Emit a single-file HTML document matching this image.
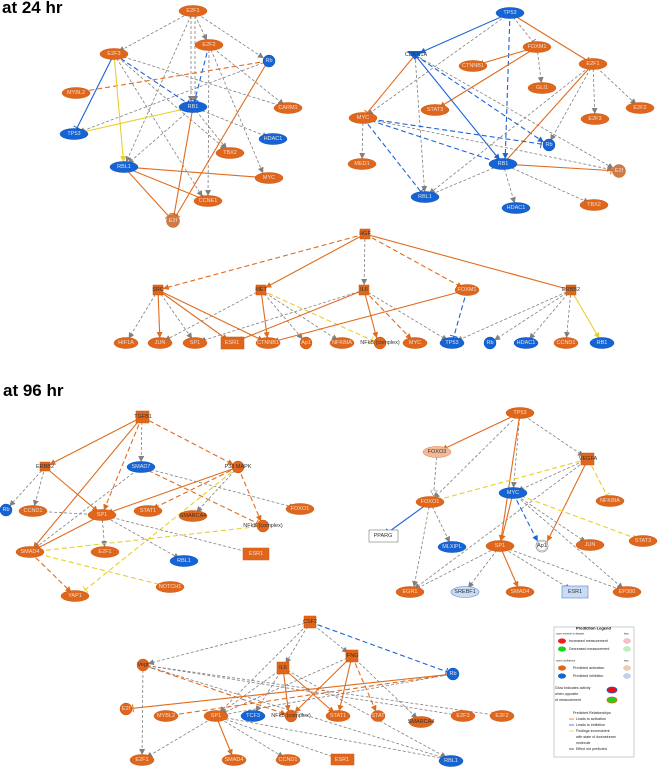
<!DOCTYPE html>
<html><head><meta charset="utf-8"><style>
html,body{margin:0;padding:0;background:#fff;}
svg{display:block}
.g{stroke:#808080;stroke-width:.8;stroke-dasharray:3 2;fill:none}
.o{stroke:#e06c1e;stroke-width:1.1;fill:none}
.od{stroke:#e06c1e;stroke-width:1.1;stroke-dasharray:5 3;fill:none}
.b{stroke:#1c64d6;stroke-width:1.1;fill:none}
.bd{stroke:#1c64d6;stroke-width:1.1;stroke-dasharray:5 3;fill:none}
.y{stroke:#e8cf2c;stroke-width:1.1;fill:none}
.yd{stroke:#e8cf2c;stroke-width:1.1;stroke-dasharray:5 3;fill:none}
.no{fill:#e0661c;stroke:#c85814;stroke-width:.5}
.nb{fill:#1464d8;stroke:#0f50b0;stroke-width:.5}
.nl{fill:#f4b896;stroke:#d9804a;stroke-width:.5}
.nlb{fill:#c9dcf5;stroke:#5a86c4;stroke-width:.6}
.nw{fill:#fff;stroke:#777;stroke-width:.6}
text{font-family:"Liberation Sans",sans-serif;font-size:5.5px;text-anchor:middle;dominant-baseline:central;fill:#e8e0d8}
.dk{fill:#333}
.t{font-size:17px;font-weight:bold;fill:#000;text-anchor:start;dominant-baseline:auto}
.lg{font-size:3.6px;fill:#222;text-anchor:start}
</style></head><body>
<svg width="658" height="768" viewBox="0 0 658 768" xmlns="http://www.w3.org/2000/svg">
<defs>
<marker id="ag" markerUnits="userSpaceOnUse" markerWidth="6" markerHeight="6" refX="11" refY="3" orient="auto"><path d="M0,0L6,3L0,6z" fill="#808080"/></marker>
<marker id="ao" markerUnits="userSpaceOnUse" markerWidth="6" markerHeight="6" refX="11" refY="3" orient="auto"><path d="M0,0L6,3L0,6z" fill="#e06c1e"/></marker>
<marker id="ab" markerUnits="userSpaceOnUse" markerWidth="6" markerHeight="6" refX="11" refY="3" orient="auto"><path d="M0,0L6,3L0,6z" fill="#1c64d6"/></marker>
<marker id="ay" markerUnits="userSpaceOnUse" markerWidth="6" markerHeight="6" refX="11" refY="3" orient="auto"><path d="M0,0L6,3L0,6z" fill="#e8cf2c"/></marker>
<marker id="to" markerUnits="userSpaceOnUse" markerWidth="2" markerHeight="8" refX="8" refY="4" orient="auto"><path d="M1,0V8" stroke="#e06c1e" stroke-width="1"/></marker>
<marker id="tb" markerUnits="userSpaceOnUse" markerWidth="2" markerHeight="8" refX="8" refY="4" orient="auto"><path d="M1,0V8" stroke="#1c64d6" stroke-width="1"/></marker>
<marker id="ty" markerUnits="userSpaceOnUse" markerWidth="2" markerHeight="8" refX="8" refY="4" orient="auto"><path d="M1,0V8" stroke="#e8cf2c" stroke-width="1"/></marker>
<marker id="tg" markerUnits="userSpaceOnUse" markerWidth="2" markerHeight="8" refX="8" refY="4" orient="auto"><path d="M1,0V8" stroke="#808080" stroke-width="1"/></marker>
<marker id="og" markerUnits="userSpaceOnUse" markerWidth="7" markerHeight="7" refX="12" refY="3.5" orient="auto"><path d="M0,0L6,3.5L0,7z" fill="#fff" stroke="#808080" stroke-width=".6"/></marker>
</defs>

<text class="t" x="2" y="13">at 24 hr</text>
<text class="t" x="3" y="396">at 96 hr</text>

<!-- ===== Panel 1 ===== -->
<g>
<line class="g" x1="193" y1="11" x2="114" y2="54" marker-end="url(#ag)"/>
<line class="g" x1="193" y1="11" x2="209" y2="45" marker-end="url(#ag)"/>
<line class="g" x1="193" y1="11" x2="268" y2="61" marker-end="url(#ag)"/>
<line class="g" x1="191" y1="11" x2="191" y2="107" marker-end="url(#ag)"/>
<line class="g" x1="195" y1="11" x2="195" y2="107" marker-end="url(#ag)"/>
<line class="g" x1="193" y1="11" x2="124" y2="167" marker-end="url(#ag)"/>
<line class="g" x1="209" y1="45" x2="288" y2="108" marker-end="url(#ag)"/>
<line class="g" x1="209" y1="45" x2="265" y2="178" marker-end="url(#ag)"/>
<line class="g" x1="209" y1="45" x2="208" y2="201" marker-end="url(#ag)"/>
<line class="g" x1="114" y1="54" x2="288" y2="108" marker-end="url(#ag)"/>
<line class="g" x1="114" y1="54" x2="230" y2="153" marker-end="url(#ag)"/>
<line class="g" x1="114" y1="54" x2="205" y2="201" marker-end="url(#ag)"/>
<line class="g" x1="268" y1="61" x2="74" y2="134" marker-end="url(#ag)"/>
<line class="g" x1="193" y1="107" x2="124" y2="167" marker-end="url(#ag)"/>
<line class="g" x1="193" y1="107" x2="273" y2="139" marker-end="url(#ag)"/>
<line class="g" x1="193" y1="107" x2="230" y2="153" marker-end="url(#ag)"/>
<line class="bd" x1="114" y1="54" x2="193" y2="107" marker-end="url(#tb)"/>
<line class="bd" x1="209" y1="45" x2="193" y2="107" marker-end="url(#tb)"/>
<line class="b" x1="114" y1="54" x2="74" y2="134" marker-end="url(#tb)"/>
<line class="od" x1="268" y1="61" x2="73" y2="93" marker-end="url(#to)"/>
<line class="y" x1="114" y1="54" x2="124" y2="167" marker-end="url(#ay)"/>
<line class="y" x1="193" y1="107" x2="74" y2="134" marker-end="url(#ty)"/>
<line class="o" x1="124" y1="167" x2="269" y2="178" marker-end="url(#to)"/>
<line class="o" x1="124" y1="167" x2="208" y2="201" marker-end="url(#to)"/>
<line class="o" x1="124" y1="167" x2="173" y2="221" marker-end="url(#to)"/>
<line class="o" x1="193" y1="107" x2="173" y2="221" marker-end="url(#to)"/>
<line class="o" x1="268" y1="61" x2="173" y2="221" marker-end="url(#to)"/>

<ellipse class="no" cx="193" cy="11" rx="14" ry="5.5"/><text x="193" y="11">E2F1</text>
<ellipse class="no" cx="209" cy="45" rx="14" ry="5.5"/><text x="209" y="45">E2F2</text>
<ellipse class="no" cx="114" cy="54" rx="14" ry="5.5"/><text x="114" y="54">E2F3</text>
<circle class="nb" cx="269" cy="61" r="6"/><text x="269" y="61">Rb</text>
<ellipse class="no" cx="76" cy="93" rx="14" ry="5.5"/><text x="76" y="93">MYBL2</text>
<ellipse class="nb" cx="193" cy="107" rx="14" ry="5.5"/><text x="193" y="107">RB1</text>
<ellipse class="no" cx="288" cy="108" rx="14" ry="5.5"/><text x="288" y="108">CARM1</text>
<ellipse class="nb" cx="74" cy="134" rx="14" ry="5.5"/><text x="74" y="134">TP53</text>
<ellipse class="nb" cx="273" cy="139" rx="14" ry="5.5"/><text x="273" y="139">HDAC1</text>
<ellipse class="no" cx="230" cy="153" rx="14" ry="5.5"/><text x="230" y="153">TBX2</text>
<ellipse class="nb" cx="124" cy="167" rx="14" ry="5.5"/><text x="124" y="167">RBL1</text>
<ellipse class="no" cx="269" cy="178" rx="14" ry="5.5"/><text x="269" y="178">MYC</text>
<ellipse class="no" cx="208" cy="201" rx="14" ry="5.5"/><text x="208" y="201">CCNE1</text>
<circle class="no" cx="173" cy="221" r="6.5" style="fill:#d27a44"/><text x="173" y="221">E2f</text>
</g>

<!-- ===== Panel 2 ===== -->
<g>
<line class="b" x1="510" y1="13" x2="415" y2="55" marker-end="url(#ab)"/>
<line class="g" x1="510" y1="13" x2="363" y2="118" marker-end="url(#ag)"/>
<line class="bd" x1="510" y1="13" x2="505" y2="164" marker-end="url(#ab)"/>
<line class="g" x1="510" y1="13" x2="537" y2="47" marker-end="url(#tg)"/>
<line class="o" x1="510" y1="13" x2="593" y2="64" marker-end="url(#to)"/>
<line class="o" x1="537" y1="47" x2="473" y2="66" marker-end="url(#ao)"/>
<line class="o" x1="537" y1="47" x2="435" y2="110" marker-end="url(#ao)"/>
<line class="g" x1="537" y1="47" x2="542" y2="88" marker-end="url(#ag)"/>
<line class="o" x1="415" y1="55" x2="363" y2="118" marker-end="url(#to)"/>
<line class="g" x1="415" y1="55" x2="425" y2="197" marker-end="url(#ag)"/>
<line class="b" x1="415" y1="55" x2="503" y2="164" marker-end="url(#ab)"/>
<line class="bd" x1="415" y1="55" x2="548" y2="145" marker-end="url(#ab)"/>
<line class="g" x1="415" y1="55" x2="618" y2="171" marker-end="url(#ag)"/>
<line class="g" x1="593" y1="64" x2="595" y2="119" marker-end="url(#ag)"/>
<line class="g" x1="593" y1="64" x2="640" y2="108" marker-end="url(#ag)"/>
<line class="g" x1="593" y1="64" x2="548" y2="145" marker-end="url(#ag)"/>
<line class="g" x1="593" y1="64" x2="425" y2="197" marker-end="url(#ag)"/>
<line class="o" x1="593" y1="64" x2="503" y2="164"/>
<line class="bd" x1="363" y1="118" x2="548" y2="145" marker-end="url(#tb)"/>
<line class="bd" x1="363" y1="118" x2="503" y2="164" marker-end="url(#tb)"/>
<line class="bd" x1="363" y1="118" x2="425" y2="197" marker-end="url(#tb)"/>
<line class="g" x1="363" y1="118" x2="362" y2="164" marker-end="url(#ag)"/>
<line class="g" x1="363" y1="118" x2="618" y2="171" marker-end="url(#ag)"/>
<line class="o" x1="503" y1="164" x2="618" y2="171" marker-end="url(#to)"/>
<line class="g" x1="503" y1="164" x2="425" y2="197" marker-end="url(#ag)"/>
<line class="g" x1="503" y1="164" x2="516" y2="208" marker-end="url(#ag)"/>
<line class="g" x1="503" y1="164" x2="594" y2="205" marker-end="url(#ag)"/>

<ellipse class="nb" cx="510" cy="13" rx="14" ry="5.5"/><text x="510" y="13">TP53</text>
<path d="M407,51 L423,51 L415,60 z" fill="#1464d8"/><text class="dk" x="416" y="55">CDKN1A</text>
<ellipse class="no" cx="537" cy="47" rx="14" ry="5.5"/><text x="537" y="47">FOXM1</text>
<ellipse class="no" cx="473" cy="66" rx="14" ry="5.5"/><text x="473" y="66">CTNNB1</text>
<ellipse class="no" cx="593" cy="64" rx="14" ry="5.5"/><text x="593" y="64">E2F1</text>
<ellipse class="no" cx="542" cy="88" rx="14" ry="5.5"/><text x="542" y="88">GLI1</text>
<ellipse class="no" cx="435" cy="110" rx="14" ry="5.5"/><text x="435" y="110">STAT3</text>
<ellipse class="no" cx="640" cy="108" rx="14" ry="5.5"/><text x="640" y="108">E2F2</text>
<ellipse class="no" cx="595" cy="119" rx="14" ry="5.5"/><text x="595" y="119">E2F3</text>
<ellipse class="no" cx="363" cy="118" rx="14" ry="5.5"/><text x="363" y="118">MYC</text>
<circle class="nb" cx="549" cy="145" r="6"/><text x="549" y="145">Rb</text>
<ellipse class="no" cx="362" cy="164" rx="14" ry="5.5"/><text x="362" y="164">MED1</text>
<ellipse class="nb" cx="503" cy="164" rx="14" ry="5.5"/><text x="503" y="164">RB1</text>
<circle class="no" cx="619" cy="171" r="6.5" style="fill:#d27a44"/><text x="619" y="171">E2f</text>
<ellipse class="nb" cx="425" cy="197" rx="14" ry="5.5"/><text x="425" y="197">RBL1</text>
<ellipse class="nb" cx="516" cy="208" rx="14" ry="5.5"/><text x="516" y="208">HDAC1</text>
<ellipse class="no" cx="594" cy="205" rx="14" ry="5.5"/><text x="594" y="205">TBX2</text>
</g>

<!-- ===== Panel 3 ===== -->
<g>
<line class="od" x1="365" y1="234" x2="158" y2="290" marker-end="url(#ao)"/>
<line class="o" x1="365" y1="234" x2="261" y2="290" marker-end="url(#ao)"/>
<line class="g" x1="365" y1="234" x2="364" y2="290" marker-end="url(#ag)"/>
<line class="od" x1="365" y1="234" x2="467" y2="290" marker-end="url(#ao)"/>
<line class="o" x1="365" y1="234" x2="571" y2="290"/>
<line class="g" x1="158" y1="290" x2="126" y2="343" marker-end="url(#ag)"/>
<line class="o" x1="158" y1="290" x2="160" y2="343" marker-end="url(#ao)"/>
<line class="g" x1="158" y1="290" x2="195" y2="343" marker-end="url(#ag)"/>
<line class="o" x1="158" y1="290" x2="232" y2="343" marker-end="url(#ao)"/>
<line class="o" x1="158" y1="290" x2="268" y2="343" marker-end="url(#ao)"/>
<line class="g" x1="261" y1="290" x2="160" y2="343" marker-end="url(#ag)"/>
<line class="o" x1="261" y1="290" x2="268" y2="343" marker-end="url(#ao)"/>
<line class="g" x1="261" y1="290" x2="306" y2="343" marker-end="url(#ag)"/>
<line class="g" x1="261" y1="290" x2="342" y2="343" marker-end="url(#ag)"/>
<line class="yd" x1="261" y1="290" x2="378" y2="343" marker-end="url(#ty)"/>
<line class="g" x1="364" y1="290" x2="195" y2="343" marker-end="url(#ag)"/>
<line class="o" x1="364" y1="290" x2="232" y2="343" marker-end="url(#ao)"/>
<line class="o" x1="364" y1="290" x2="378" y2="343" marker-end="url(#ao)"/>
<line class="od" x1="364" y1="290" x2="415" y2="343" marker-end="url(#ao)"/>
<line class="g" x1="364" y1="290" x2="452" y2="343" marker-end="url(#ag)"/>
<line class="o" x1="467" y1="290" x2="268" y2="343" marker-end="url(#ao)"/>
<line class="bd" x1="467" y1="290" x2="452" y2="343" marker-end="url(#tb)"/>
<line class="g" x1="571" y1="290" x2="452" y2="343" marker-end="url(#ag)"/>
<line class="g" x1="571" y1="290" x2="490" y2="343" marker-end="url(#ag)"/>
<line class="g" x1="571" y1="290" x2="526" y2="343" marker-end="url(#ag)"/>
<line class="g" x1="571" y1="290" x2="566" y2="343" marker-end="url(#ag)"/>
<line class="y" x1="571" y1="290" x2="602" y2="343" marker-end="url(#ay)"/>

<rect class="no" x="360" y="229" width="10" height="10"/><text class="dk" x="365" y="234">HGF</text>
<rect class="no" x="153" y="285" width="10" height="10"/><text class="dk" x="158" y="290">SRC</text>
<rect class="no" x="256" y="285" width="10" height="10"/><text class="dk" x="261" y="290">MET</text>
<rect class="no" x="359" y="285" width="10" height="10"/><text class="dk" x="364" y="290">IL6</text>
<ellipse class="no" cx="467" cy="290" rx="12" ry="5.5"/><text x="467" y="290">FOXM1</text>
<rect class="no" x="566" y="285" width="10" height="10"/><text class="dk" x="571" y="290">ERBB2</text>
<ellipse class="no" cx="126" cy="343" rx="12" ry="5.5"/><text x="126" y="343">HIF1A</text>
<ellipse class="no" cx="160" cy="343" rx="12" ry="5.5"/><text x="160" y="343">JUN</text>
<ellipse class="no" cx="195" cy="343" rx="12" ry="5.5"/><text x="195" y="343">SP1</text>
<rect class="no" x="221" y="337" width="23" height="12"/><text x="232" y="343">ESR1</text>
<ellipse class="no" cx="268" cy="343" rx="12" ry="5.5"/><text x="268" y="343">CTNNB1</text>
<ellipse class="no" cx="306" cy="343" rx="6" ry="6"/><text x="306" y="343">Ap1</text>
<ellipse class="no" cx="342" cy="343" rx="12" ry="5.5"/><text x="342" y="343">NFKBIA</text>
<circle class="no" cx="380" cy="343" r="6"/><text class="dk" x="380" y="343">NFkB (complex)</text>
<ellipse class="no" cx="415" cy="343" rx="12" ry="5.5"/><text x="415" y="343">MYC</text>
<ellipse class="nb" cx="452" cy="343" rx="12" ry="5.5"/><text x="452" y="343">TP53</text>
<ellipse class="nb" cx="490" cy="343" rx="6" ry="6"/><text x="490" y="343">Rb</text>
<ellipse class="nb" cx="526" cy="343" rx="12" ry="5.5"/><text x="526" y="343">HDAC1</text>
<ellipse class="no" cx="566" cy="343" rx="12" ry="5.5"/><text x="566" y="343">CCND1</text>
<ellipse class="nb" cx="602" cy="343" rx="12" ry="5.5"/><text x="602" y="343">RB1</text>
</g>

<!-- ===== Panel 4 ===== -->
<g>
<line class="o" x1="142" y1="417" x2="45" y2="467" marker-end="url(#ao)"/>
<line class="o" x1="142" y1="417" x2="30" y2="552" marker-end="url(#ao)"/>
<line class="od" x1="142" y1="417" x2="102" y2="515" marker-end="url(#ao)"/>
<line class="g" x1="142" y1="417" x2="141" y2="467" marker-end="url(#ag)"/>
<line class="od" x1="142" y1="417" x2="238" y2="467" marker-end="url(#ao)"/>
<line class="g" x1="45" y1="467" x2="6" y2="510" marker-end="url(#ag)"/>
<line class="g" x1="45" y1="467" x2="33" y2="511" marker-end="url(#ag)"/>
<line class="o" x1="45" y1="467" x2="102" y2="515" marker-end="url(#ao)"/>
<line class="g" x1="141" y1="467" x2="30" y2="552" marker-end="url(#ag)"/>
<line class="od" x1="141" y1="467" x2="263" y2="526" marker-end="url(#to)"/>
<line class="g" x1="141" y1="467" x2="300" y2="509" marker-end="url(#ag)"/>
<line class="o" x1="238" y1="467" x2="102" y2="515" marker-end="url(#ao)"/>
<line class="od" x1="238" y1="467" x2="148" y2="511" marker-end="url(#ao)"/>
<line class="g" x1="238" y1="467" x2="193" y2="516" marker-end="url(#ag)"/>
<line class="od" x1="238" y1="467" x2="263" y2="526" marker-end="url(#ao)"/>
<line class="yd" x1="238" y1="467" x2="80" y2="594" marker-end="url(#ty)"/>
<line class="g" x1="102" y1="515" x2="33" y2="511" marker-end="url(#ag)"/>
<line class="o" x1="102" y1="515" x2="30" y2="552" marker-end="url(#ao)"/>
<line class="g" x1="102" y1="515" x2="105" y2="552" marker-end="url(#ag)"/>
<line class="g" x1="102" y1="515" x2="184" y2="561" marker-end="url(#ag)"/>
<line class="g" x1="102" y1="515" x2="256" y2="554" marker-end="url(#ag)"/>
<line class="yd" x1="30" y1="552" x2="263" y2="526"/>
<line class="yd" x1="30" y1="552" x2="170" y2="587" marker-end="url(#ty)"/>
<line class="od" x1="30" y1="552" x2="75" y2="596" marker-end="url(#ao)"/>

<rect class="no" x="136" y="411" width="13" height="12"/><text class="dk" x="143" y="417">TGFB1</text>
<rect class="no" x="40" y="462" width="10" height="9"/><text class="dk" x="45" y="467">ERBB2</text>
<ellipse class="nb" cx="141" cy="467" rx="14" ry="5.5"/><text x="141" y="467">SMAD7</text>
<circle class="no" cx="238" cy="467" r="6"/><text class="dk" x="238" y="467">P38 MAPK</text>
<ellipse class="nb" cx="6" cy="510" rx="6" ry="6"/><text x="6" y="510">Rb</text>
<ellipse class="no" cx="33" cy="511" rx="14" ry="5.5"/><text x="33" y="511">CCND1</text>
<ellipse class="no" cx="102" cy="515" rx="14" ry="5.5"/><text x="102" y="515">SP1</text>
<ellipse class="no" cx="148" cy="511" rx="14" ry="5.5"/><text x="148" y="511">STAT1</text>
<ellipse class="no" cx="193" cy="516" rx="14" ry="5.5"/><text class="dk" x="193" y="516">SMARCA4</text>
<ellipse class="no" cx="300" cy="509" rx="14" ry="5.5"/><text x="300" y="509">FOXO1</text>
<circle class="no" cx="263" cy="526" r="6"/><text class="dk" x="263" y="526">NFkB (complex)</text>
<ellipse class="no" cx="30" cy="552" rx="14" ry="5.5"/><text x="30" y="552">SMAD4</text>
<ellipse class="no" cx="105" cy="552" rx="14" ry="5.5"/><text x="105" y="552">E2F1</text>
<rect class="no" x="243" y="548" width="26" height="12"/><text x="256" y="554">ESR1</text>
<ellipse class="nb" cx="184" cy="561" rx="14" ry="5.5"/><text x="184" y="561">RBL1</text>
<ellipse class="no" cx="170" cy="587" rx="14" ry="5.5"/><text x="170" y="587">NOTCH1</text>
<ellipse class="no" cx="75" cy="596" rx="14" ry="5.5"/><text x="75" y="596">YAP1</text>
</g>

<!-- ===== Panel 5 ===== -->
<g>
<line class="o" x1="520" y1="413" x2="437" y2="452" marker-end="url(#ao)"/>
<line class="g" x1="520" y1="413" x2="430" y2="502" marker-end="url(#ag)"/>
<line class="g" x1="520" y1="413" x2="513" y2="493" marker-end="url(#ag)"/>
<line class="o" x1="520" y1="413" x2="500" y2="546" marker-end="url(#ao)"/>
<line class="g" x1="520" y1="413" x2="588" y2="459" marker-end="url(#ag)"/>
<line class="g" x1="437" y1="452" x2="433" y2="502" marker-end="url(#og)"/>
<line class="yd" x1="588" y1="459" x2="430" y2="502" marker-end="url(#ty)"/>
<line class="yd" x1="588" y1="459" x2="610" y2="501" marker-end="url(#ty)"/>
<line class="g" x1="588" y1="459" x2="513" y2="493" marker-end="url(#ag)"/>
<line class="g" x1="588" y1="459" x2="410" y2="592" marker-end="url(#ag)"/>
<line class="o" x1="588" y1="459" x2="545" y2="546" marker-end="url(#ao)"/>
<line class="b" x1="430" y1="502" x2="383" y2="536" marker-end="url(#tb)"/>
<line class="g" x1="430" y1="502" x2="452" y2="547" marker-end="url(#ag)"/>
<line class="g" x1="430" y1="502" x2="413" y2="592" marker-end="url(#ag)"/>
<line class="o" x1="513" y1="493" x2="500" y2="546" marker-end="url(#ao)"/>
<line class="bd" x1="513" y1="493" x2="540" y2="546" marker-end="url(#ab)"/>
<line class="g" x1="513" y1="493" x2="590" y2="545" marker-end="url(#ag)"/>
<line class="g" x1="513" y1="493" x2="627" y2="592" marker-end="url(#ag)"/>
<line class="yd" x1="513" y1="493" x2="643" y2="541" marker-end="url(#ay)"/>
<line class="g" x1="500" y1="546" x2="410" y2="592" marker-end="url(#ag)"/>
<line class="g" x1="500" y1="546" x2="465" y2="592" marker-end="url(#ag)"/>
<line class="o" x1="500" y1="546" x2="520" y2="592" marker-end="url(#ao)"/>
<line class="g" x1="500" y1="546" x2="575" y2="592" marker-end="url(#ag)"/>
<line class="g" x1="500" y1="546" x2="627" y2="592" marker-end="url(#ag)"/>

<ellipse class="no" cx="520" cy="413" rx="14" ry="5.5"/><text x="520" y="413">TP53</text>
<ellipse class="nl" cx="437" cy="452" rx="14" ry="5.5"/><text class="dk" x="437" y="452">FOXO3</text>
<rect class="no" x="581" y="453" width="13" height="12"/><text class="dk" x="588" y="459">VEGFA</text>
<ellipse class="nb" cx="513" cy="493" rx="14" ry="5.5"/><text x="513" y="493">MYC</text>
<ellipse class="no" cx="610" cy="501" rx="14" ry="5.5"/><text x="610" y="501">NFKBIA</text>
<ellipse class="no" cx="430" cy="502" rx="14" ry="5.5"/><text x="430" y="502">FOXO1</text>
<rect class="nw" x="369" y="530" width="29" height="12"/><text class="dk" x="383" y="536">PPARG</text>
<ellipse class="nb" cx="452" cy="547" rx="14" ry="5.5"/><text x="452" y="547">MLXIPL</text>
<ellipse class="no" cx="500" cy="546" rx="14" ry="5.5"/><text x="500" y="546">SP1</text>
<circle class="nw" cx="542" cy="546" r="6"/><circle cx="542" cy="546" r="4.8" fill="none" stroke="#777" stroke-width=".4"/><text class="dk" x="542" y="546">Ap1</text>
<ellipse class="no" cx="590" cy="545" rx="14" ry="5.5"/><text x="590" y="545">JUN</text>
<ellipse class="no" cx="643" cy="541" rx="14" ry="5.5"/><text x="643" y="541">STAT3</text>
<ellipse class="no" cx="410" cy="592" rx="14" ry="5.5"/><text x="410" y="592">EGR1</text>
<ellipse class="nlb" cx="465" cy="592" rx="14" ry="5.5"/><text class="dk" x="465" y="592">SREBF1</text>
<ellipse class="no" cx="520" cy="592" rx="14" ry="5.5"/><text x="520" y="592">SMAD4</text>
<rect class="nlb" x="562" y="586" width="26" height="12"/><text class="dk" x="575" y="592">ESR1</text>
<ellipse class="no" cx="627" cy="592" rx="14" ry="5.5"/><text x="627" y="592">EP300</text>
</g>

<!-- ===== Panel 6 ===== -->
<g>
<line class="g" x1="310" y1="622" x2="143" y2="665" marker-end="url(#ag)"/>
<line class="g" x1="310" y1="622" x2="283" y2="668" marker-end="url(#ag)"/>
<line class="g" x1="310" y1="622" x2="352" y2="656" marker-end="url(#ag)"/>
<line class="bd" x1="310" y1="622" x2="453" y2="674" marker-end="url(#tb)"/>
<line class="g" x1="310" y1="622" x2="216" y2="716" marker-end="url(#ag)"/>
<line class="g" x1="143" y1="665" x2="142" y2="760" marker-end="url(#ag)"/>
<line class="od" x1="143" y1="665" x2="291" y2="716" marker-end="url(#ao)"/>
<line class="g" x1="143" y1="665" x2="463" y2="716" marker-end="url(#ag)"/>
<line class="g" x1="143" y1="665" x2="502" y2="716" marker-end="url(#ag)"/>
<line class="g" x1="143" y1="665" x2="451" y2="760" marker-end="url(#ag)"/>
<line class="g" x1="283" y1="668" x2="216" y2="716" marker-end="url(#ag)"/>
<line class="g" x1="283" y1="668" x2="253" y2="716" marker-end="url(#ag)"/>
<line class="o" x1="283" y1="668" x2="289" y2="716" marker-end="url(#ao)"/>
<line class="o" x1="283" y1="668" x2="338" y2="716" marker-end="url(#ao)"/>
<line class="g" x1="283" y1="668" x2="451" y2="760" marker-end="url(#ag)"/>
<line class="o" x1="352" y1="656" x2="291" y2="716" marker-end="url(#ao)"/>
<line class="o" x1="352" y1="656" x2="338" y2="716" marker-end="url(#ao)"/>
<line class="od" x1="352" y1="656" x2="378" y2="716" marker-end="url(#ao)"/>
<line class="g" x1="352" y1="656" x2="421" y2="722" marker-end="url(#ag)"/>
<line class="g" x1="352" y1="656" x2="216" y2="716" marker-end="url(#ag)"/>
<line class="o" x1="453" y1="674" x2="126" y2="709" marker-end="url(#to)"/>
<line class="od" x1="453" y1="674" x2="166" y2="716" marker-end="url(#to)"/>
<line class="g" x1="453" y1="674" x2="216" y2="716"/>
<line class="g" x1="216" y1="716" x2="142" y2="760" marker-end="url(#ag)"/>
<line class="o" x1="216" y1="716" x2="234" y2="760" marker-end="url(#ao)"/>
<line class="g" x1="216" y1="716" x2="288" y2="760" marker-end="url(#ag)"/>
<line class="g" x1="216" y1="716" x2="342" y2="760" marker-end="url(#ag)"/>
<line class="g" x1="216" y1="716" x2="451" y2="760" marker-end="url(#ag)"/>

<rect class="no" x="304" y="616" width="12" height="12"/><text class="dk" x="310" y="622">CSF2</text>
<rect class="no" x="346" y="650" width="12" height="12"/><text class="dk" x="352" y="656">IFNG</text>
<rect class="no" x="277" y="662" width="12" height="12"/><text class="dk" x="283" y="668">IL6</text>
<circle class="no" cx="143" cy="665" r="6"/><text class="dk" x="143" y="665">Vegf</text>
<circle class="nb" cx="453" cy="674" r="6"/><text x="453" y="674">Rb</text>
<circle class="no" cx="126" cy="709" r="6"/><text x="126" y="709">E2f</text>
<ellipse class="no" cx="166" cy="716" rx="12" ry="5.5"/><text x="166" y="716">MYBL2</text>
<ellipse class="no" cx="216" cy="716" rx="12" ry="5.5"/><text x="216" y="716">SP1</text>
<ellipse class="nb" cx="253" cy="716" rx="12" ry="5.5"/><text x="253" y="716">TCF3</text>
<circle class="no" cx="291" cy="716" r="6"/><text class="dk" x="291" y="716">NFkB (complex)</text>
<ellipse class="no" cx="338" cy="716" rx="12" ry="5.5"/><text x="338" y="716">STAT1</text>
<ellipse class="no" cx="378" cy="716" rx="7" ry="5.5"/><text x="378" y="716">STAT</text>
<ellipse class="no" cx="421" cy="722" rx="12" ry="5.5"/><text class="dk" x="421" y="722">SMARCA4</text>
<ellipse class="no" cx="463" cy="716" rx="12" ry="5.5"/><text x="463" y="716">E2F3</text>
<ellipse class="no" cx="502" cy="716" rx="12" ry="5.5"/><text x="502" y="716">E2F2</text>
<ellipse class="no" cx="142" cy="760" rx="12" ry="5.5"/><text x="142" y="760">E2F1</text>
<ellipse class="no" cx="234" cy="760" rx="12" ry="5.5"/><text x="234" y="760">SMAD4</text>
<ellipse class="no" cx="288" cy="760" rx="12" ry="5.5"/><text x="288" y="760">CCND1</text>
<rect class="no" x="331" y="754" width="23" height="11"/><text x="342" y="760">ESR1</text>
<ellipse class="nb" cx="451" cy="761" rx="12" ry="5.5"/><text x="451" y="761">RBL1</text>
</g>

<!-- ===== Legend ===== -->
<g>
<rect x="554" y="627" width="80" height="130" fill="#fff" stroke="#999" stroke-width=".5"/>
<text class="lg" x="576" y="628" style="font-weight:bold;font-size:4px;fill:#000">Prediction Legend</text>
<text class="lg" x="556" y="634" style="font-size:2.6px">more extreme in dataset</text><text class="lg" x="624" y="634" style="font-size:2.6px">less</text>
<ellipse cx="562" cy="641" rx="4" ry="2.6" fill="#ee2020"/><text class="lg" x="569" y="641">Increased measurement</text><ellipse cx="627" cy="641" rx="3.5" ry="2.4" fill="#f8c0c0" stroke="#d88" stroke-width=".3"/>
<ellipse cx="562" cy="649" rx="4" ry="2.6" fill="#20d020"/><text class="lg" x="569" y="649">Decreased measurement</text><ellipse cx="627" cy="649" rx="3.5" ry="2.4" fill="#c0f0c0" stroke="#8c8" stroke-width=".3"/>
<text class="lg" x="556" y="661" style="font-size:2.6px">more confidence</text><text class="lg" x="624" y="661" style="font-size:2.6px">less</text>
<ellipse cx="562" cy="668" rx="4" ry="2.6" fill="#e0661c"/><text class="lg" x="573" y="668">Predicted activation</text><ellipse cx="627" cy="668" rx="3.5" ry="2.4" fill="#f4c8a8" stroke="#d98" stroke-width=".3"/>
<ellipse cx="562" cy="676" rx="4" ry="2.6" fill="#1464d8"/><text class="lg" x="573" y="676">Predicted inhibition</text><ellipse cx="627" cy="676" rx="3.5" ry="2.4" fill="#c0d4f0" stroke="#89c" stroke-width=".3"/>
<text class="lg" x="555" y="688">Glow Indicates activity</text><text class="lg" x="555" y="694">when opposite</text><text class="lg" x="555" y="700">of measurement</text>
<ellipse cx="612" cy="690" rx="5" ry="3" fill="#ee1010" stroke="#1464d8" stroke-width=".8"/>
<ellipse cx="612" cy="700" rx="5" ry="3" fill="#20d020" stroke="#e0661c" stroke-width=".8"/>
<text class="lg" x="573" y="713">Predicted Relationships</text>
<line x1="569" y1="719" x2="574" y2="719" stroke="#e06c1e" stroke-width=".8"/><text class="lg" x="576" y="719">Leads to activation</text>
<line x1="569" y1="725" x2="574" y2="725" stroke="#1c64d6" stroke-width=".8"/><text class="lg" x="576" y="725">Leads to inhibition</text>
<line x1="569" y1="731" x2="574" y2="731" stroke="#e8cf2c" stroke-width=".8"/><text class="lg" x="576" y="731">Findings inconsistent</text>
<text class="lg" x="576" y="737">with state of downstream</text><text class="lg" x="576" y="743">molecule</text>
<line x1="569" y1="749" x2="574" y2="749" stroke="#444" stroke-width=".8"/><text class="lg" x="576" y="749">Effect not predicted</text>
</g>
</svg>
</body></html>
